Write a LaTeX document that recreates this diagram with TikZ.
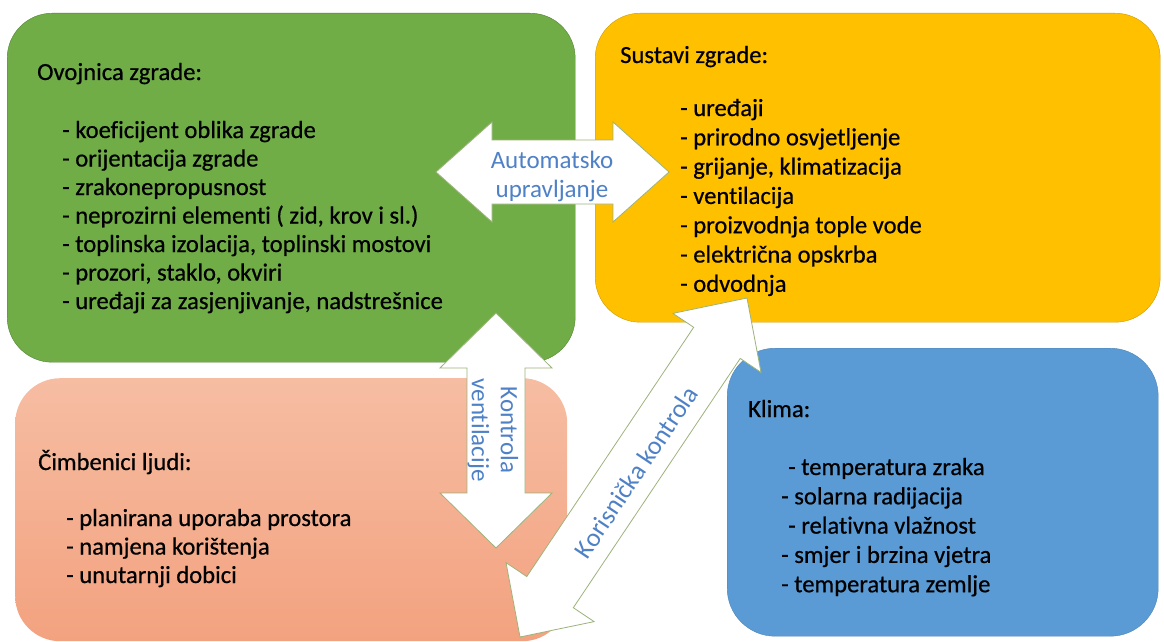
\documentclass[tikz,border=0pt]{standalone}
\usepackage{fontspec}
\setmainfont{Carlito}[Ligatures={NoCommon}]
\newfontfamily\tekst{Carlito}[FakeBold=0.6, Ligatures={NoCommon}]
\usepackage{xcolor}
\usetikzlibrary{calc}
\definecolor{zelena}{HTML}{70AD47}
\definecolor{zuta}{HTML}{FFC000}
\definecolor{plava}{HTML}{5B9BD5}
\definecolor{losos1}{HTML}{F6BDA3}
\definecolor{losos2}{HTML}{F3A27F}
\definecolor{rub}{HTML}{9CB37C}
\definecolor{natpisplava}{HTML}{4F81C7}
\tikzset{
  kutija/.style={rectangle, rounded corners=45pt, anchor=north west, inner sep=0pt},
  naslov/.style={anchor=base west, inner sep=0pt, text=black, font=\tekst\fontsize{24.6}{28.5}\selectfont},
  stavka/.style={naslov},
  strelica/.style={fill=white, draw=rub, line width=0.8pt, line join=miter},
  natpis/.style={align=center, inner sep=0pt, text=natpisplava, font=\fontsize{25}{29}\selectfont}
}

\begin{document}
\begin{tikzpicture}[x=1pt, y=-1pt]
\useasboundingbox (0,0) rectangle (1164,642);
\node[kutija, fill=zelena, draw=zelena!75!black, minimum width=568pt, minimum height=349pt] (ovojnica) at (7,13) {};
\node[kutija, fill=zuta, draw=zuta!80!black, minimum width=565pt, minimum height=309pt] (sustavi) at (595,13) {};
\node[kutija, top color=losos1, bottom color=losos2, minimum width=552pt, minimum height=263pt] (ljudi) at (15,378) {};
\node[kutija, fill=plava, draw=plava!85!black, minimum width=431pt, minimum height=288pt, rounded corners=48pt] (klima) at (727,348) {};

\node[naslov] (ovojnica-n) at (37,80) {Ovojnica zgrade:};
\foreach \t [count=\i] in {koeficijent oblika zgrade, orijentacija zgrade, zrakonepropusnost,
    {neprozirni elementi ( zid, krov i sl.)}, {toplinska izolacija, toplinski mostovi},
    {prozori, staklo, okviri}, {uređaji za zasjenjivanje, nadstrešnice}}
  \node[stavka] (ovojnica-\i) at (62,{138+28.5*(\i-1)}) {- \t};

\node[naslov] (sustavi-n) at (620,63) {Sustavi zgrade:};
\foreach \t [count=\i] in {uređaji, prirodno osvjetljenje, {grijanje, klimatizacija}, ventilacija,
    proizvodnja tople vode, električna opskrba, odvodnja}
  \node[stavka] (sustavi-\i) at (680,{116+29.3*(\i-1)}) {- \t};

\node[naslov] (ljudi-n) at (38,470) {Čimbenici ljudi:};
\foreach \t [count=\i] in {planirana uporaba prostora, namjena korištenja, unutarnji dobici}
  \node[stavka] (ljudi-\i) at (66,{526+28.5*(\i-1)}) {- \t};

\node[naslov] (klima-n) at (748,417) {Klima:};
\foreach \dx/\t [count=\i] in {7/temperatura zraka, 0/solarna radijacija, 7/relativna vlažnost,
    0/smjer i brzina vjetra, 0/temperatura zemlje}
  \node[stavka] (klima-\i) at ({781+\dx},{475+29.3*(\i-1)}) {- \t};

\coordinate (au1) at (436,172);
\coordinate (au2) at (669,172);
\coordinate (kv1) at (496,313);
\coordinate (kv2) at (496,548);
\coordinate (kk1) at (520,637);
\coordinate (kk2) at (747,298);
\foreach \ta/\tb/\sw/\hw/\hlen in {au1/au2/32pt/50pt/56pt, kv1/kv2/29pt/56pt/55pt, kk1/kk2/28pt/53pt/54pt}
  \draw[strelica] (\ta) -- ($(\ta)!\hlen!(\tb)!\hw!90:(\tb)$) -- ($(\ta)!\hlen!(\tb)!\sw!90:(\tb)$)
    -- ($(\tb)!\hlen!(\ta)!\sw!-90:(\ta)$) -- ($(\tb)!\hlen!(\ta)!\hw!-90:(\ta)$) -- (\tb)
    -- ($(\tb)!\hlen!(\ta)!\hw!90:(\ta)$) -- ($(\tb)!\hlen!(\ta)!\sw!90:(\ta)$)
    -- ($(\ta)!\hlen!(\tb)!\sw!-90:(\tb)$) -- ($(\ta)!\hlen!(\tb)!\hw!-90:(\tb)$) -- cycle;

\node[natpis] (au) at (552,176) {Automatsko\\upravljanje};
\node[natpis, rotate=-90] (kv) at (493,430) {Kontrola\\ventilacije};
\node[natpis, rotate=56.2, font=\fontsize{26}{29}\selectfont] (kk) at (636,472) {Korisnička kontrola};
\end{tikzpicture}
\end{document}
